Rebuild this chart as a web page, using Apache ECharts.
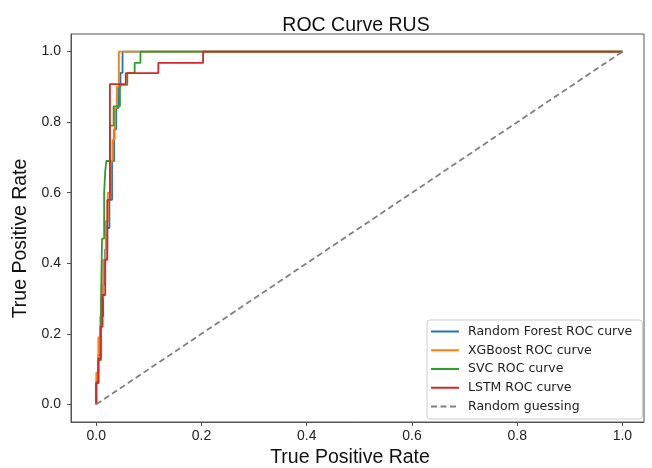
<!DOCTYPE html>
<html>
<head>
<meta charset="utf-8">
<script src="https://cdn.jsdelivr.net/npm/echarts@6/dist/echarts.min.js"></script>
<style>
  html, body { margin: 0; padding: 0; background: #fff; }
  #main { width: 652px; height: 468px; }
</style>
</head>
<body>
<div id="main"></div>
<script>
// tick positions shared by both axes
var tickValues = [0, 0.2, 0.4, 0.6, 0.8, 1.0]

var seriesNames = ['Random Forest ROC curve', 'XGBoost ROC curve', 'SVC ROC curve', 'LSTM ROC curve', 'Random guessing']

// Random Forest
var rfFpr = [0, 0, 0.004, 0.004, 0.008, 0.008, 0.013, 0.013, 0.017, 0.017, 0.021, 0.021, 0.025, 0.025, 0.03, 0.03, 0.034, 0.034, 0.038, 0.038, 0.042, 0.042, 0.046, 0.046, 0.05, 0.05, 1]
var rfTpr = [0, 0.06, 0.06, 0.14, 0.14, 0.25, 0.25, 0.34, 0.34, 0.44, 0.44, 0.5, 0.5, 0.58, 0.58, 0.69, 0.69, 0.78, 0.78, 0.84, 0.84, 0.9, 0.9, 0.94, 0.94, 1.0, 1.0]

// XGBoost
var xgbFpr = [0, 0, 0.004, 0.004, 0.009, 0.009, 0.013, 0.013, 0.018, 0.018, 0.022, 0.022, 0.027, 0.027, 0.031, 0.031, 0.035, 0.035, 0.039, 0.039, 0.043, 0.043, 1]
var xgbTpr = [0, 0.09, 0.09, 0.19, 0.19, 0.3, 0.3, 0.41, 0.41, 0.52, 0.52, 0.6, 0.6, 0.69, 0.69, 0.75, 0.75, 0.84, 0.84, 0.9, 0.9, 1.0, 1.0]

// SVC
var svcFpr = [0, 0, 0.004, 0.004, 0.009, 0.009, 0.011, 0.011, 0.015, 0.015, 0.017, 0.017, 0.019, 0.019, 0.026, 0.026, 0.033, 0.033, 0.045, 0.045, 0.059, 0.059, 0.073, 0.073, 0.084, 0.084, 1]
var svcTpr = [0, 0.063, 0.063, 0.125, 0.125, 0.29, 0.29, 0.47, 0.47, 0.6, 0.6, 0.66, 0.66, 0.69, 0.69, 0.79, 0.79, 0.845, 0.845, 0.906, 0.906, 0.939, 0.939, 0.968, 0.968, 1.0, 1.0]

// LSTM
var lstmFpr = [0, 0, 0.004, 0.004, 0.008, 0.008, 0.012, 0.012, 0.017, 0.017, 0.021, 0.021, 0.026, 0.026, 0.056, 0.056, 0.118, 0.118, 0.203, 0.203, 1]
var lstmTpr = [0, 0.06, 0.06, 0.13, 0.13, 0.22, 0.22, 0.31, 0.31, 0.41, 0.41, 0.58, 0.58, 0.908, 0.908, 0.939, 0.939, 0.968, 0.968, 1.0, 1.0]

// diagonal
var guessFpr = [0, 1]
var guessTpr = [0, 1]

var colors = ['#1f77b4', '#ff7f0e', '#2ca02c', '#d62728', '#808080']

function zip(xs, ys) {
  var res = []
  for (var i = 0; i < xs.length; i++) res.push([xs[i], ys[i]])
  return res
}

var curves = [
  zip(rfFpr, rfTpr),
  zip(xgbFpr, xgbTpr),
  zip(svcFpr, svcTpr),
  zip(lstmFpr, lstmTpr),
  zip(guessFpr, guessTpr)
]

var series = curves.map(function (d, i) {
  return {
    name: seriesNames[i],
    type: 'line',
    data: d,
    symbol: 'none',
    silent: true,
    animation: false,
    lineStyle: {
      color: colors[i],
      width: 1.8,
      type: i === 4 ? [6, 3.5] : 'solid'
    },
    itemStyle: { color: colors[i] }
  }
})

var axisCommon = {
  type: 'value',
  splitLine: { show: false },
  axisLine: { show: true, onZero: false, lineStyle: { color: '#555', width: 1 } },
  axisTick: { show: true, length: 4, customValues: tickValues, lineStyle: { color: '#555' } },
  axisLabel: {
    customValues: tickValues,
    color: '#222',
    fontSize: 14,
    fontFamily: 'Liberation Sans',
    formatter: function (v) { return v.toFixed(1) }
  },
  nameLocation: 'middle',
  nameTextStyle: { fontSize: 19.5, fontFamily: 'Liberation Sans', color: '#111' }
}

var option = {
  backgroundColor: '#fff',
  animation: false,
  title: {
    text: 'ROC Curve RUS',
    left: 351,
    top: 11,
    textAlign: 'center',
    textStyle: { fontSize: 19.5, fontWeight: 'normal', fontFamily: 'Liberation Sans', color: '#111' }
  },
  grid: {
    left: 71, right: 8, top: 34, bottom: 46,
    outerBoundsMode: 'none',
    show: true, borderColor: '#555', borderWidth: 1
  },
  legend: {
    data: seriesNames,
    orient: 'vertical',
    left: 427,
    top: 320,
    itemWidth: 28,
    itemHeight: 13,
    itemGap: 5.75,
    padding: [5, 10, 6, 3],
    backgroundColor: 'rgba(255,255,255,0.85)',
    borderColor: '#ccc',
    borderWidth: 1,
    borderRadius: 3,
    itemStyle: { opacity: 0 },
    textStyle: { fontSize: 12.5, fontFamily: 'DejaVu Sans', color: '#222', padding: [0, 0, 0, 4] }
  },
  xAxis: Object.assign({}, axisCommon, {
    min: -0.048,
    max: 1.041,
    name: 'True Positive Rate',
    nameGap: 25,
    nameTextStyle: Object.assign({}, axisCommon.nameTextStyle, { padding: [0, 15, 0, 0] }),
    axisLabel: Object.assign({}, axisCommon.axisLabel, { margin: 7 })
  }),
  yAxis: Object.assign({}, axisCommon, {
    min: -0.05,
    max: 1.05,
    name: 'True Positive Rate',
    nameGap: 34,
    nameTextStyle: Object.assign({}, axisCommon.nameTextStyle, { padding: [0, 21, 0, 0] }),
    axisLabel: Object.assign({}, axisCommon.axisLabel, { margin: 10 })
  }),
  series: series
}

var myChart = echarts.init(document.getElementById('main'))
myChart.setOption(option)
</script>
</body>
</html>
